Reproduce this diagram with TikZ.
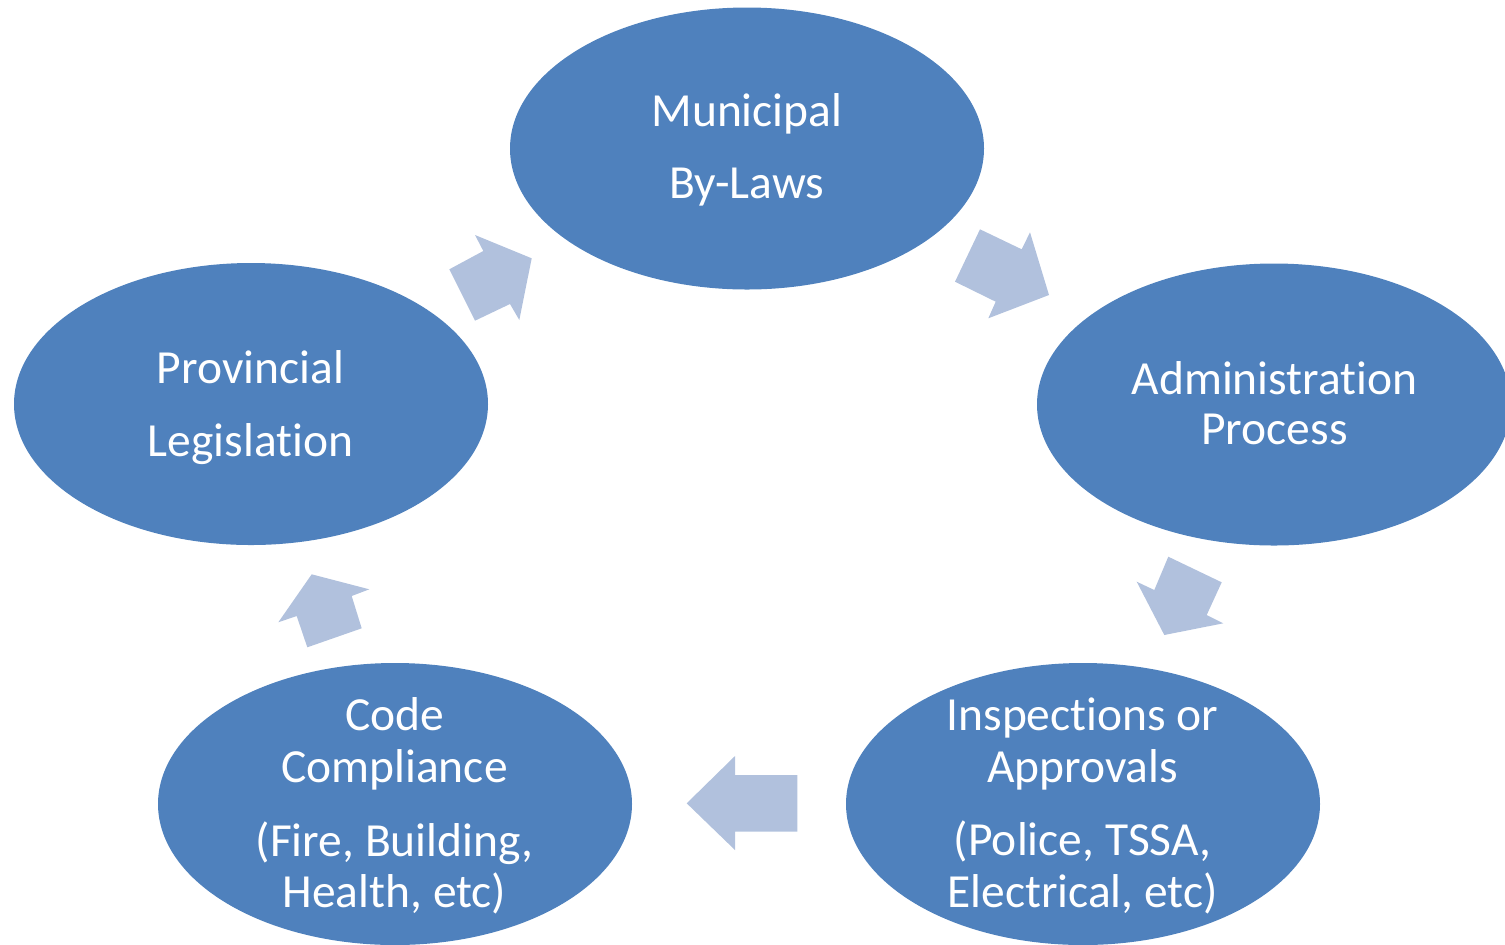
\documentclass[tikz,border=0pt]{standalone}
\usepackage{fontspec}
\setmainfont[Ligatures=NoCommon]{Carlito}
\usetikzlibrary{shapes.geometric}
\definecolor{ellblue}{RGB}{79,129,189}
\definecolor{arrblue}{RGB}{177,193,221}
\begin{document}
\begin{tikzpicture}[x=0.5pt,y=-0.5pt,
  ell/.style={ellipse,fill=ellblue,draw=none,minimum width=237pt,minimum height=141pt,inner sep=0pt},
  txt/.style={anchor=base,text=white,inner sep=0pt,font=\fontsize{23.75}{28}\selectfont},
  blockarrow/.style={fill=arrblue,draw=none}]
\useasboundingbox (0,0) rectangle (1505,944);
\clip (0,0) rectangle (1505,944);
% ellipses
\node[ell] (mun) at (747,148.5) {};
\node[ell] (adm) at (1274,404.5) {};
\node[ell] (ins) at (1083,804) {};
\node[ell] (cod) at (395,804) {};
\node[ell] (pro) at (251,404) {};
% texts
\node[txt] (mun1) at (747,126.5) {Municipal};
\node[txt] (mun2) at (747,198) {By-Laws};
\node[txt] (adm1) at (1274.5,394.5) {Administration};
\node[txt] (adm2) at (1274.5,444) {Process};
\node[txt] (ins1) at (1082.5,730) {Inspections or};
\node[txt] (ins2) at (1082.5,782) {Approvals};
\node[txt] (ins3) at (1082.5,855.5) {(Police, TSSA,};
\node[txt] (ins4) at (1082.5,907) {Electrical, etc)};
\node[txt] (cod1) at (394.5,730) {Code};
\node[txt] (cod2) at (394.5,782) {Compliance};
\node[txt] (cod3) at (394.5,856) {(Fire, Building,};
\node[txt] (cod4) at (394.5,907) {Health, etc)};
\node[txt] (pro1) at (250.5,383) {Provincial};
\node[txt] (pro2) at (250.5,456) {Legislation};
% block arrows
\fill[blockarrow] (449.3,269.3) -- (483.3,251) -- (475,235) -- (531.7,258.3) -- (519.3,320) -- (510,304) -- (475,320.7) -- cycle;
\fill[blockarrow] (980,229.3) -- (1021.7,249.3) -- (1030,232.3) -- (1049,295) -- (988.3,318.3) -- (995.7,301.7) -- (955,281.7) -- cycle;
\fill[blockarrow] (1168.3,556.7) -- (1221.7,582.3) -- (1206.7,615) -- (1223.3,623.3) -- (1164.3,635) -- (1136.7,581.7) -- (1154.3,590) -- cycle;
\fill[blockarrow] (686.7,803.3) -- (735,756) -- (735,775) -- (797.3,775) -- (797.3,831.7) -- (735,831.7) -- (735,850) -- cycle;
\fill[blockarrow] (311.7,574.3) -- (369.3,589.3) -- (351.7,596) -- (361.7,628.3) -- (307.3,647.3) -- (296.7,616) -- (278.3,622.3) -- cycle;
\end{tikzpicture}
\end{document}
